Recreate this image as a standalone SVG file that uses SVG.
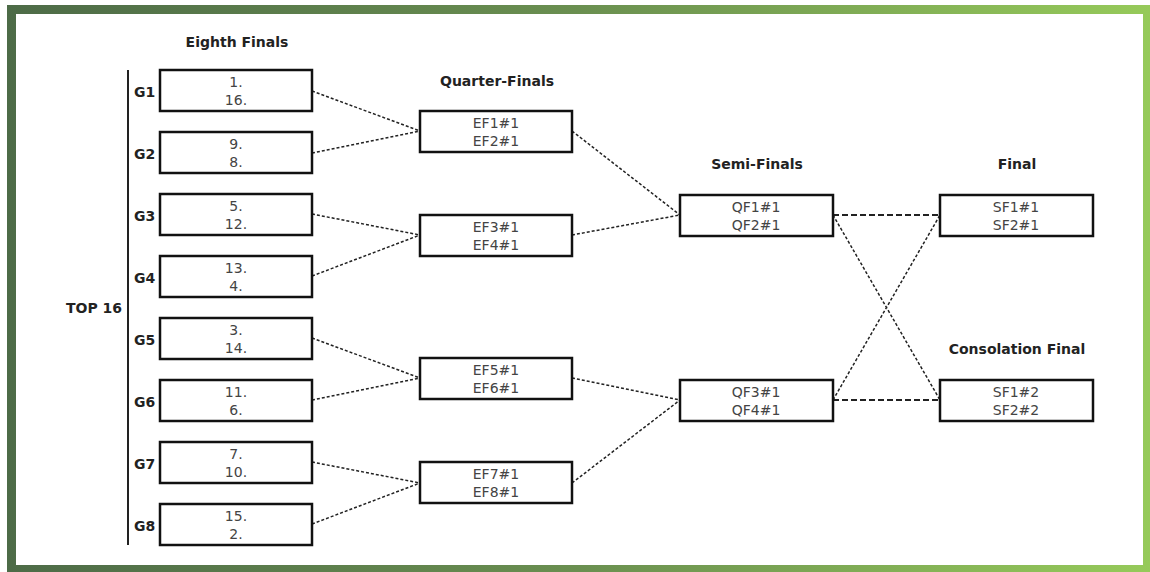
<svg xmlns="http://www.w3.org/2000/svg" width="1150" height="572" viewBox="0 0 1150 572">
<defs>
<linearGradient id="frame" x1="0" y1="0" x2="1" y2="0">
<stop offset="0" stop-color="#4d6b47"/>
<stop offset="0.5" stop-color="#6a8f50"/>
<stop offset="1" stop-color="#96ca5a"/>
</linearGradient>
<style>
.box{fill:#fff;stroke:#111;stroke-width:2.5}
.t{font-family:"DejaVu Sans",Verdana,sans-serif;font-size:14px;fill:#444;text-anchor:middle}
.h{font-family:"DejaVu Sans",Verdana,sans-serif;font-size:14px;font-weight:bold;fill:#222;text-anchor:middle}
.g{font-family:"DejaVu Sans",Verdana,sans-serif;font-size:14px;font-weight:bold;fill:#222;text-anchor:start}
.c{fill:none;stroke:#222;stroke-width:1.5;stroke-dasharray:3 2}
.c2{fill:none;stroke:#222;stroke-width:2.2;stroke-dasharray:6 3}
</style>
</defs>
<rect x="7" y="5" width="1143" height="567" fill="url(#frame)"/>
<rect x="16" y="14" width="1127" height="551" fill="#fff"/>

<g id="titles">
<text class="h" x="237" y="47">Eighth Finals</text>
<text class="h" x="497" y="86">Quarter-Finals</text>
<text class="h" x="757" y="169">Semi-Finals</text>
<text class="h" x="1017" y="169">Final</text>
<text class="h" x="1017" y="354">Consolation Final</text>
<text class="h" x="94" y="313">TOP 16</text>
</g>

<line x1="128" y1="70" x2="128" y2="545" stroke="#222" stroke-width="2"/>

<g id="connectors">
<path class="c" d="M312,91 L420,131 M312,153 L420,131"/>
<path class="c" d="M312,214 L420,235 M312,276 L420,235"/>
<path class="c" d="M312,338 L420,378 M312,400 L420,378"/>
<path class="c" d="M312,462 L420,483 M312,524 L420,483"/>
<path class="c" d="M572,131 L680,215 M572,235 L680,215"/>
<path class="c" d="M572,378 L680,400 M572,483 L680,400"/>
<path class="c" d="M833,215 L940,400 M833,400 L940,215"/>
<path class="c2" d="M833,215 L940,215 M833,400 L940,400"/>
</g>

<g id="G1"><text class="g" x="134" y="97">G1</text><rect class="box" x="160" y="70" width="152" height="41"/><text class="t" x="236" y="87">1.</text><text class="t" x="236" y="105">16.</text></g>
<g id="G2"><text class="g" x="134" y="159">G2</text><rect class="box" x="160" y="132" width="152" height="41"/><text class="t" x="236" y="149">9.</text><text class="t" x="236" y="167">8.</text></g>
<g id="G3"><text class="g" x="134" y="221">G3</text><rect class="box" x="160" y="194" width="152" height="41"/><text class="t" x="236" y="211">5.</text><text class="t" x="236" y="229">12.</text></g>
<g id="G4"><text class="g" x="134" y="283">G4</text><rect class="box" x="160" y="256" width="152" height="41"/><text class="t" x="236" y="273">13.</text><text class="t" x="236" y="291">4.</text></g>
<g id="G5"><text class="g" x="134" y="345">G5</text><rect class="box" x="160" y="318" width="152" height="41"/><text class="t" x="236" y="335">3.</text><text class="t" x="236" y="353">14.</text></g>
<g id="G6"><text class="g" x="134" y="407">G6</text><rect class="box" x="160" y="380" width="152" height="41"/><text class="t" x="236" y="397">11.</text><text class="t" x="236" y="415">6.</text></g>
<g id="G7"><text class="g" x="134" y="469">G7</text><rect class="box" x="160" y="442" width="152" height="41"/><text class="t" x="236" y="459">7.</text><text class="t" x="236" y="477">10.</text></g>
<g id="G8"><text class="g" x="134" y="531">G8</text><rect class="box" x="160" y="504" width="152" height="41"/><text class="t" x="236" y="521">15.</text><text class="t" x="236" y="539">2.</text></g>

<g id="QF1"><rect class="box" x="420" y="111" width="152" height="41"/><text class="t" x="496" y="128">EF1#1</text><text class="t" x="496" y="146">EF2#1</text></g>
<g id="QF2"><rect class="box" x="420" y="215" width="152" height="41"/><text class="t" x="496" y="232">EF3#1</text><text class="t" x="496" y="250">EF4#1</text></g>
<g id="QF3"><rect class="box" x="420" y="358" width="152" height="41"/><text class="t" x="496" y="375">EF5#1</text><text class="t" x="496" y="393">EF6#1</text></g>
<g id="QF4"><rect class="box" x="420" y="462" width="152" height="41"/><text class="t" x="496" y="479">EF7#1</text><text class="t" x="496" y="497">EF8#1</text></g>

<g id="SF1"><rect class="box" x="680" y="195" width="153" height="41"/><text class="t" x="756" y="212">QF1#1</text><text class="t" x="756" y="230">QF2#1</text></g>
<g id="SF2"><rect class="box" x="680" y="380" width="153" height="41"/><text class="t" x="756" y="397">QF3#1</text><text class="t" x="756" y="415">QF4#1</text></g>

<g id="Final"><rect class="box" x="940" y="195" width="153" height="41"/><text class="t" x="1016" y="212">SF1#1</text><text class="t" x="1016" y="230">SF2#1</text></g>
<g id="Consolation"><rect class="box" x="940" y="380" width="153" height="41"/><text class="t" x="1016" y="397">SF1#2</text><text class="t" x="1016" y="415">SF2#2</text></g>
</svg>
